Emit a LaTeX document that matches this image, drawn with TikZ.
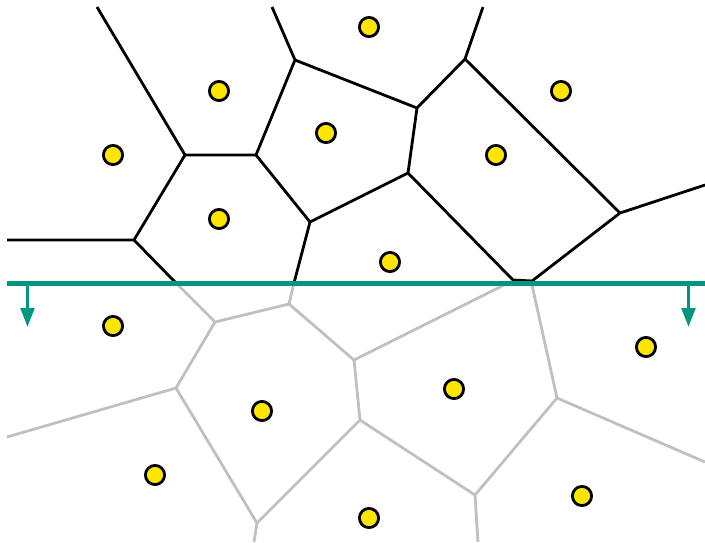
\documentclass[tikz,border=0pt]{standalone}
\usetikzlibrary{arrows.meta}
\definecolor{sweepc}{RGB}{0,150,130}
\definecolor{sitec}{RGB}{255,230,0}
\definecolor{oldc}{RGB}{192,192,192}
\begin{document}
\begin{tikzpicture}[x=1pt,y=-1pt,
  site/.style={circle,draw=black,fill=sitec,line width=2.8pt,inner sep=0pt,minimum size=19.2pt},
  edgeblack/.style={draw=black,line width=2.8pt,line join=round},
  edgegray/.style={draw=oldc,line width=2.8pt,line join=round},
  sweepline/.style={draw=sweepc,line width=5pt},
  sweeparrow/.style={draw=sweepc,line width=3.5pt,-{Triangle[length=19pt,width=13.5pt]}}]
\useasboundingbox (0,0) rectangle (705,542);
% Voronoi vertices above sweep line
\coordinate (A) at (295,60);
\coordinate (B) at (417,108);
\coordinate (C) at (256,155);
\coordinate (D) at (408,173);
\coordinate (E) at (310,222);
\coordinate (F) at (465,59);
\coordinate (G) at (185,155);
\coordinate (H) at (134,240);
\coordinate (I) at (620,213);
% free ends
\coordinate (tA) at (272,7);
\coordinate (tF) at (483,7);
\coordinate (tG) at (97,7);
\coordinate (lH) at (7,240);
\coordinate (rI) at (705,185);
\coordinate (sH) at (176,283);
\coordinate (sE) at (294,283);
\coordinate (sD) at (513,280);
\coordinate (sI) at (532,281);
% vertices below sweep line
\coordinate (J) at (215,322);
\coordinate (K) at (289,304);
\coordinate (L) at (176,388);
\coordinate (M) at (257,523);
\coordinate (N) at (360,420);
\coordinate (O) at (354,360);
\coordinate (Q) at (475,495);
\coordinate (R) at (557,398);
\coordinate (lL) at (7,437);
\coordinate (bM) at (254,542);
\coordinate (bQ) at (478,542);
\coordinate (rR) at (705,462);
\coordinate (sO) at (504,285);
\coordinate (sR) at (532,285);
% gray (future) edges
\draw[edgegray] (sH) -- (J) -- (K) -- (sE);
\draw[edgegray] (J) -- (L) -- (lL);
\draw[edgegray] (L) -- (M) -- (bM);
\draw[edgegray] (M) -- (N) -- (O) -- (K);
\draw[edgegray] (O) -- (sO);
\draw[edgegray] (N) -- (Q) -- (bQ);
\draw[edgegray] (Q) -- (R) -- (rR);
\draw[edgegray] (R) -- (sR);
% black edges
\draw[edgeblack] (tG) -- (G) -- (C) -- (A) -- (tA);
\draw[edgeblack] (lH) -- (H) -- (G);
\draw[edgeblack] (H) -- (sH);
\draw[edgeblack] (C) -- (E) -- (sE);
\draw[edgeblack] (A) -- (B) -- (F) -- (tF);
\draw[edgeblack] (B) -- (D) -- (E);
\draw[edgeblack] (D) -- (sD) -- (sI) -- (I) -- (rI);
\draw[edgeblack] (F) -- (I);
% sweep line
\coordinate (swL) at (7,283.5);
\coordinate (swR) at (705,283.5);
\draw[sweepline] (swL) -- (swR);
\coordinate (a1s) at (27.5,283.5);
\coordinate (a1e) at (27.5,327);
\coordinate (a2s) at (688.5,283.5);
\coordinate (a2e) at (688.5,327);
\draw[sweeparrow] (a1s) -- (a1e);
\draw[sweeparrow] (a2s) -- (a2e);
% sites
\node[site] (s1) at (369,27) {};
\node[site] (s2) at (219,91) {};
\node[site] (s3) at (561,91) {};
\node[site] (s4) at (113,155) {};
\node[site] (s5) at (326,133) {};
\node[site] (s6) at (496,155) {};
\node[site] (s7) at (219,219) {};
\node[site] (s8) at (390,262) {};
\node[site] (s9) at (113,326) {};
\node[site] (s10) at (646,347) {};
\node[site] (s11) at (262,411) {};
\node[site] (s12) at (454,389) {};
\node[site] (s13) at (155,475) {};
\node[site] (s14) at (369,518) {};
\node[site] (s15) at (582,496) {};
\end{tikzpicture}
\end{document}
